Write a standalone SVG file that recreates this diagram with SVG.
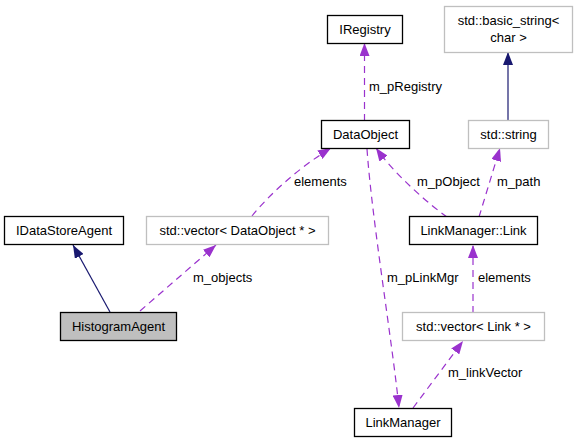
<svg xmlns="http://www.w3.org/2000/svg" width="576" height="443" viewBox="0 0 576 443">
<defs>
<style>
.box{fill:#ffffff;stroke:#000000;stroke-width:1.3}
.gbox{fill:#ffffff;stroke:#bfbfbf;stroke-width:1.3}
.hbox{fill:#bfbfbf;stroke:#000000;stroke-width:1.3}
text{font-family:"Liberation Sans",Arial,sans-serif;font-size:13px;fill:#000000}
.c{text-anchor:middle}
.dep{fill:none;stroke:#9a32cd;stroke-width:1.2;stroke-dasharray:7,5;marker-end:url(#pa)}
.inh{fill:none;stroke:#191970;stroke-width:1.2;marker-end:url(#na)}
</style>
<marker id="pa" viewBox="0 0 13 10" refX="13" refY="5" markerWidth="13" markerHeight="10" markerUnits="userSpaceOnUse" orient="auto"><path d="M0,0 L13,5 L0,10 z" fill="#9a32cd"/></marker>
<marker id="na" viewBox="0 0 13 10" refX="13" refY="5" markerWidth="13" markerHeight="10" markerUnits="userSpaceOnUse" orient="auto"><path d="M0,0 L13,5 L0,10 z" fill="#191970"/></marker>
</defs>
<rect width="576" height="443" fill="#ffffff"/>
<g id="connectors">
<path class="dep" d="M364.5,121 L364.5,43"/>
<text x="369" y="91">m_pRegistry</text>
<path class="inh" d="M508,121 L508,52"/>
<path class="inh" d="M110,312 L73,245"/>
<path class="dep" d="M140,311 L216,245"/>
<text x="193" y="282">m_objects</text>
<path class="dep" d="M252,216 C268,196 298,168 331,148"/>
<text x="294" y="186">elements</text>
<path class="dep" d="M367,149 C372,220 392,340 399,408"/>
<text x="387" y="282">m_pLinkMgr</text>
<path class="dep" d="M447,217 C430,205 395,175 376,148"/>
<text x="417" y="186">m_pObject</text>
<path class="dep" d="M479,217 L500,148"/>
<text x="497" y="186">m_path</text>
<path class="dep" d="M473,313 L473,245"/>
<text x="478" y="282">elements</text>
<path class="dep" d="M413,408 L463,341"/>
<text x="448" y="377">m_linkVector</text>
</g>
<g id="IRegistry"><rect class="box" x="327.5" y="15.5" width="75" height="28"/><text class="c" x="365" y="34">IRegistry</text></g>
<g id="basic_string"><rect class="gbox" x="444.5" y="6.5" width="128" height="46"/><text class="c" x="508.5" y="25">std::basic_string&lt;</text><text class="c" x="508.5" y="42">char &gt;</text></g>
<g id="DataObject"><rect class="box" x="321.5" y="120.5" width="88" height="28"/><text class="c" x="365.5" y="139">DataObject</text></g>
<g id="std_string"><rect class="gbox" x="468.5" y="120.5" width="80" height="28"/><text class="c" x="508.5" y="139">std::string</text></g>
<g id="IDataStoreAgent"><rect class="box" x="4.5" y="216.5" width="119" height="28"/><text class="c" x="64" y="235">IDataStoreAgent</text></g>
<g id="vector_DataObject"><rect class="gbox" x="146.5" y="216.5" width="182" height="28"/><text class="c" x="237.5" y="235">std::vector&lt; DataObject * &gt;</text></g>
<g id="LinkManager_Link"><rect class="box" x="409.5" y="216.5" width="128" height="28"/><text class="c" x="473.5" y="235">LinkManager::Link</text></g>
<g id="HistogramAgent"><rect class="hbox" x="60.5" y="312.5" width="116" height="28"/><text class="c" x="118.5" y="331">HistogramAgent</text></g>
<g id="vector_Link"><rect class="gbox" x="402.5" y="312.5" width="142" height="28"/><text class="c" x="473.5" y="331">std::vector&lt; Link * &gt;</text></g>
<g id="LinkManager"><rect class="box" x="354.5" y="408.5" width="97" height="28"/><text class="c" x="403" y="427">LinkManager</text></g>
</svg>
